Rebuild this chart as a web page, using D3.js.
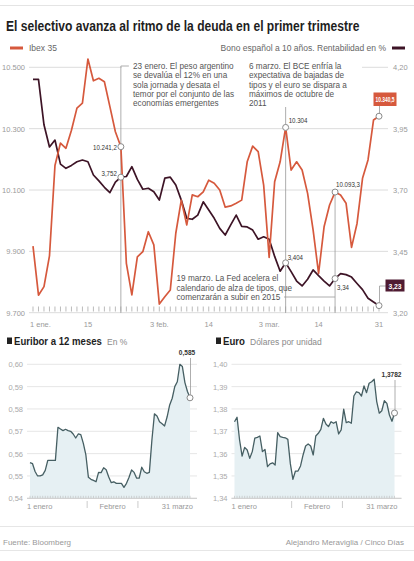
<!DOCTYPE html>
<html><head><meta charset="utf-8">
<script src="https://cdn.jsdelivr.net/npm/d3@7"></script>
<style>body{margin:0;background:#fff;} svg{display:block;font-family:"Liberation Sans",Arial,sans-serif;}</style>
</head><body><svg id="c" width="414" height="561"></svg>
<script>
// ---------- DATA ----------
const title = "El selectivo avanza al ritmo de la deuda en el primer trimestre";
const ibexLabel = "Ibex 35";
const bonoLabel = "Bono español a 10 años. Rentabilidad en %";
// 64 sessions (weekdays 1 Jan – 31 Mar 2014), index 0..63
const ibex = [9917,9757,9785,9885,10180,10253,10236,10295,10367,10383,10527,10456,10464,10453,10372,10290,10241.2,9861,9758,9882,9899,9964,9921,9728,9752,9774,9959,10067,9986,10084,10078,10094,10132,10122,10100,10044,10048,10057,10067,10192,10243,10225,10116,9880,10127,10192,10304,10165,10192,10165,10089,9970,9828,9980,10051,10093.3,10084,10057,9913,9991,10138,10198,10328,10340.5];
const bono = [4.15,4.15,3.965,3.875,3.903,3.805,3.788,3.80,3.815,3.822,3.815,3.761,3.737,3.711,3.689,3.732,3.752,3.755,3.795,3.743,3.703,3.707,3.693,3.659,3.748,3.752,3.72,3.659,3.585,3.581,3.598,3.652,3.619,3.585,3.544,3.517,3.558,3.598,3.552,3.55,3.537,3.50,3.51,3.50,3.43,3.37,3.404,3.368,3.33,3.31,3.337,3.375,3.352,3.33,3.31,3.34,3.36,3.356,3.346,3.32,3.295,3.26,3.245,3.23];
const ibexTicks = [9700,9900,10100,10300,10500];
const bonoTicks = [3.20,3.45,3.70,3.95,4.20];
const mainXLabels = [{i:0,t:"1 ene."},{i:10,t:"15"},{i:23,t:"3 feb."},{i:32,t:"14"},{i:43,t:"3 mar."},{i:52,t:"14"},{i:63,t:"31"}];
const events = [
  {i:16, lines:["23 enero. El peso argentino","se devalúa el 12% en una","sola jornada y desata el","temor por el conjunto de las","economías emergentes"]},
  {i:46, lines:["6 marzo. El BCE enfría la","expectativa de bajadas de","tipos y el euro se dispara a","máximos de octubre de","2011"]},
  {i:55, lines:["19 marzo. La Fed acelera el","calendario de alza de tipos, que","comenzarán a subir en 2015"]}
];
const euriborTitle = "Euribor a 12 meses", euriborUnit = "En %";
const euroTitle = "Euro", euroUnit = "Dólares por unidad";
const euribor = [0.556,0.5555,0.552,0.550,0.550,0.5505,0.5525,0.557,0.557,0.557,0.557,0.5718,0.571,0.5703,0.5709,0.5703,0.570,0.5688,0.567,0.5688,0.5685,0.5646,0.5594,0.5494,0.5485,0.548,0.5474,0.5516,0.5515,0.5537,0.5528,0.5495,0.547,0.5474,0.5467,0.5467,0.5467,0.5449,0.5467,0.5494,0.5527,0.5516,0.549,0.549,0.5539,0.5519,0.5512,0.5516,0.5661,0.5778,0.5769,0.5743,0.5734,0.5724,0.5765,0.5818,0.5848,0.590,0.5922,0.600,0.599,0.5918,0.5878,0.585];
const euro = [1.3743,1.3763,1.3661,1.3589,1.3628,1.3616,1.3579,1.3609,1.3669,1.3673,1.3679,1.3609,1.3619,1.3542,1.3554,1.3559,1.3549,1.3694,1.3676,1.3673,1.3671,1.3664,1.3554,1.3485,1.3522,1.3522,1.3545,1.3594,1.3634,1.3643,1.3634,1.3594,1.3679,1.3691,1.3709,1.3758,1.3733,1.3721,1.3743,1.3736,1.3743,1.3688,1.3706,1.3799,1.3739,1.3743,1.3736,1.3858,1.3877,1.3873,1.3858,1.3903,1.3873,1.3915,1.3922,1.3933,1.3833,1.3781,1.3792,1.3837,1.3825,1.3773,1.3745,1.3782];
const euriborTicks = [0.54,0.55,0.56,0.57,0.58,0.59,0.60];
const euroTicks = [1.34,1.35,1.36,1.37,1.38,1.39,1.40];
const smallXLabels = ["1 enero","Febrero","31 marzo"];
const monthBreaks = [22.5,42.5];
const source = "Fuente: Bloomberg", credit = "Alejandro Meraviglia / Cinco Días";

// ---------- STYLE ----------
const cIbex = "#d6593d", cBono = "#3d1426", cGrid = "#dcdcdc", cAxis = "#9a9a9a", cNote = "#555";
const loc = d3.formatLocale({decimal:",", thousands:".", grouping:[3], currency:["","€"]});
const svg = d3.select("#c");
const W = 414;

// condensed text: horizontally scaled text (either fixed factor sx or fitted to width)
function ctext(parent, x, y, str, o){
  const g = parent.append("g");
  const t = g.append("text").attr("font-size",o.size).attr("fill",o.fill||"#333")
    .attr("font-weight",o.weight||"normal").attr("text-anchor",o.anchor||"start").text(str);
  let sx = o.sx || 1;
  if (o.width) sx = o.width / t.node().getComputedTextLength();
  g.attr("transform",`translate(${x},${y}) scale(${sx},1)`);
  return t;
}

svg.append("line").attr("x1",0).attr("x2",W).attr("y1",5.5).attr("y2",5.5).attr("stroke","#e4e4e4");
ctext(svg, 6, 31, title, {size:15.5, weight:"bold", fill:"#1e1e1e", width:354});

// legend
svg.append("line").attr("x1",10).attr("x2",23).attr("y1",48).attr("y2",48).attr("stroke",cIbex).attr("stroke-width",3);
svg.append("text").attr("x",29).attr("y",51).attr("font-size",8.5).attr("fill","#666").text(ibexLabel);
svg.append("line").attr("x1",392).attr("x2",405).attr("y1",48).attr("y2",48).attr("stroke",cBono).attr("stroke-width",3);
svg.append("text").attr("x",386).attr("y",51).attr("text-anchor","end").attr("font-size",8.5).attr("fill","#666").text(bonoLabel);

// ---------- MAIN CHART ----------
const x = d3.scaleLinear().domain([0,63]).range([33,379]);
const yL = d3.scaleLinear().domain([9700,10500]).range([312.7,67.3]);
const yR = d3.scaleLinear().domain([3.20,4.20]).range([313,67]);
const gMain = svg.append("g");
gMain.selectAll(".grid").data(ibexTicks).join("line").attr("x1",29).attr("x2",388)
  .attr("y1",d=>yL(d)).attr("y2",d=>yL(d)).attr("stroke",cGrid);
gMain.selectAll(".lt").data(ibexTicks).join("text").attr("x",25).attr("y",d=>yL(d)+3)
  .attr("text-anchor","end").attr("font-size",7.5).attr("fill",cAxis).text(d=>loc.format(",")(d));
gMain.selectAll(".rt").data(bonoTicks).join("text").attr("x",393).attr("y",d=>yR(d)+3)
  .attr("font-size",7.5).attr("fill",cAxis).text(d=>loc.format(".2f")(d));
gMain.selectAll(".tk").data(d3.range(64)).join("line").attr("x1",d=>x(d)).attr("x2",d=>x(d))
  .attr("y1",306.5).attr("y2",311.5).attr("stroke","#aaa").attr("stroke-width",0.8);
gMain.selectAll(".xl").data(mainXLabels).join("text").attr("x",d=>d.i===0?x(d.i)-3:x(d.i)).attr("y",327)
  .attr("text-anchor",d=>d.i===0?"start":"middle").attr("font-size",7.5).attr("fill",cAxis).text(d=>d.t);

gMain.append("rect").attr("x",122).attr("y",61).attr("width",240).attr("height",12).attr("fill","#fff");

const e1 = events[0], e2 = events[1], e3 = events[2];
const evStroke = {stroke:"#999", w:0.8};
gMain.append("path").attr("d",`M${x(e1.i)+8},66H${x(e1.i)}V313`).attr("fill","none").attr("stroke",evStroke.stroke).attr("stroke-width",evStroke.w);
gMain.append("path").attr("d",`M${x(e2.i)},107V313`).attr("fill","none").attr("stroke",evStroke.stroke).attr("stroke-width",evStroke.w);
gMain.append("path").attr("d",`M284,297H${x(e3.i)}V313`).attr("fill","none").attr("stroke",evStroke.stroke).attr("stroke-width",evStroke.w);
gMain.append("line").attr("x1",x(e3.i)).attr("x2",x(e3.i)).attr("y1",yL(ibex[e3.i])).attr("y2",297).attr("stroke",evStroke.stroke).attr("stroke-width",evStroke.w);

function note(lines, x0, y0, lh){
  const t = gMain.append("text").attr("font-size",8.2).attr("fill",cNote);
  lines.forEach((l,k)=>t.append("tspan").attr("x",x0).attr("y",y0+k*lh).text(l));
}
note(e1.lines, 133, 69, 9.3);
note(e2.lines, 249, 69, 9.3);
note(e3.lines, 176.5, 281, 9.5);

const lineL = d3.line().x((d,i)=>x(i)).y(d=>yL(d));
const lineR = d3.line().x((d,i)=>x(i)).y(d=>yR(d));
gMain.append("path").datum(bono).attr("d",lineR).attr("fill","none").attr("stroke",cBono).attr("stroke-width",1.7).attr("stroke-linejoin","round");
gMain.append("path").datum(ibex).attr("d",lineL).attr("fill","none").attr("stroke",cIbex).attr("stroke-width",1.7).attr("stroke-linejoin","round");

const last = 63;
gMain.append("line").attr("x1",x(last)+0.5).attr("x2",x(last)+0.5).attr("y1",yL(ibex[last])).attr("y2",106).attr("stroke","#999").attr("stroke-width",0.8);
gMain.append("path").attr("d",`M${x(last)+0.5},${yR(bono[last])}V286H386`).attr("fill","none").attr("stroke","#999").attr("stroke-width",0.8);

const marks = [];
[16,46,55,63].forEach(i=>{ marks.push({i, y:yL(ibex[i])}); marks.push({i, y:yR(bono[i])}); });
gMain.selectAll(".mk").data(marks).join("circle").attr("cx",d=>x(d.i)).attr("cy",d=>d.y).attr("r",3)
  .attr("fill","#fff").attr("stroke","#8a8a8a").attr("stroke-width",1);

const vlab = [
  {x:x(16)-4, y:yL(ibex[16])+3, a:"end", t:loc.format(",.1f")(ibex[16])},
  {x:x(16)-4, y:yR(bono[16])-1.5, a:"end", t:loc.format(".3f")(bono[16])},
  {x:x(46)+3, y:yL(ibex[46])-4, a:"start", t:loc.format(",")(ibex[46])},
  {x:x(46)+2, y:yR(bono[46])-3, a:"start", t:loc.format(".3f")(bono[46])},
  {x:x(55)+1, y:yL(ibex[55])-5, a:"start", t:loc.format(",.1f")(ibex[55])},
  {x:x(55)+2, y:yR(bono[55])+11, a:"start", t:loc.format(".2f")(bono[55])}
];
vlab.forEach(d=>ctext(gMain, d.x, d.y, d.t, {size:7.5, anchor:d.a, fill:"#333", sx:0.82}));

gMain.append("rect").attr("x",373.5).attr("y",92.5).attr("width",23).attr("height",13.5).attr("fill",cIbex);
ctext(gMain, 385, 102, loc.format(",.1f")(ibex[last]), {size:7.8, weight:"bold", fill:"#fff", anchor:"middle", width:19});
gMain.append("rect").attr("x",385.5).attr("y",279.5).attr("width",19).attr("height",12).attr("fill","#4f1b32");
ctext(gMain, 395, 288.5, loc.format(".2f")(bono[last]), {size:8, weight:"bold", fill:"#fff", anchor:"middle", sx:0.85});

// ---------- SMALL CHARTS ----------
function small(opt){
  const g = svg.append("g");
  const sx = d3.scaleLinear().domain([0,63]).range([opt.x0, opt.x0+160]);
  const sy = d3.scaleLinear().domain([opt.ticks[0], opt.ticks[opt.ticks.length-1]]).range([498.3,364.3]);
  g.append("rect").attr("x",opt.tx).attr("y",337.5).attr("width",5).attr("height",6.5).attr("fill","#222");
  ctext(g, opt.tx+7, 345, opt.title, {size:11, weight:"bold", fill:"#1e1e1e", width:opt.tw});
  g.append("text").attr("x",opt.tx+7+opt.tw+5).attr("y",345).attr("font-size",8.5).attr("fill","#8a8a8a").text(opt.unit);
  g.selectAll(".gr").data(opt.ticks).join("line").attr("x1",opt.x0-3).attr("x2",opt.x0+167)
    .attr("y1",d=>sy(d)).attr("y2",d=>sy(d)).attr("stroke","#e6e6e6");
  g.selectAll(".yl").data(opt.ticks).join("text").attr("x",opt.x0-7).attr("y",d=>sy(d)+3).attr("text-anchor","end")
    .attr("font-size",7.5).attr("fill","#aaa").text(d=>loc.format(".2f")(d));
  const area = d3.area().x((d,i)=>sx(i)).y0(sy(opt.ticks[0])).y1(d=>sy(d));
  g.append("path").datum(opt.data).attr("d",area).attr("fill","#e6f0f3");
  g.selectAll(".dt").data(d3.range(64)).join("line").attr("x1",d=>sx(d)).attr("x2",d=>sx(d))
    .attr("y1",495.8).attr("y2",498.3).attr("stroke","#bbb").attr("stroke-width",0.6);
  g.append("line").attr("x1",opt.x0-3).attr("x2",opt.x0+167).attr("y1",498.3).attr("y2",498.3).attr("stroke","#ccc");
  g.selectAll(".mb").data(monthBreaks).join("line").attr("x1",d=>sx(d)).attr("x2",d=>sx(d))
    .attr("y1",501).attr("y2",508).attr("stroke","#ccc");
  const line = d3.line().x((d,i)=>sx(i)).y(d=>sy(d));
  g.append("path").datum(opt.data).attr("d",line).attr("fill","none").attr("stroke","#465f63").attr("stroke-width",1.3).attr("stroke-linejoin","round");
  const xl = [{x:sx(0)-3,a:"start",t:smallXLabels[0]},{x:(sx(monthBreaks[0])+sx(monthBreaks[1]))/2,a:"middle",t:smallXLabels[1]},{x:sx(63)+3,a:"end",t:smallXLabels[2]}];
  g.selectAll(".xl").data(xl).join("text").attr("x",d=>d.x).attr("y",509).attr("text-anchor",d=>d.a)
    .attr("font-size",7.5).attr("fill","#999").text(d=>d.t);
  const lv = opt.data[63];
  g.append("line").attr("x1",sx(63)+0.5).attr("x2",sx(63)+0.5).attr("y1",opt.ptTop).attr("y2",sy(lv)-3).attr("stroke","#999").attr("stroke-width",0.8);
  g.append("circle").attr("cx",sx(63)).attr("cy",sy(lv)).attr("r",3).attr("fill","#fff").attr("stroke","#888");
  ctext(g, opt.lx, opt.ly, opt.fmt(lv), {size:8, weight:"bold", fill:"#333", anchor:"middle", sx:0.82});
}
small({x0:30, tx:7, tw:88, title:euriborTitle, unit:euriborUnit, data:euribor, ticks:euriborTicks, lx:187, ly:355, ptTop:358, fmt:loc.format(".3f")});
small({x0:234.5, tx:216, tw:22, title:euroTitle, unit:euroUnit, data:euro, ticks:euroTicks, lx:391.5, ly:377, ptTop:380, fmt:loc.format(".4f")});

svg.append("line").attr("x1",0).attr("x2",W).attr("y1",526.5).attr("y2",526.5).attr("stroke","#e6e6e6");
svg.append("line").attr("x1",0).attr("x2",W).attr("y1",550.5).attr("y2",550.5).attr("stroke","#e6e6e6");
svg.append("text").attr("x",3).attr("y",545).attr("font-size",8).attr("fill","#999").text(source);
svg.append("text").attr("x",404).attr("y",545).attr("text-anchor","end").attr("font-size",8).attr("fill","#999").text(credit);
</script></body></html>
